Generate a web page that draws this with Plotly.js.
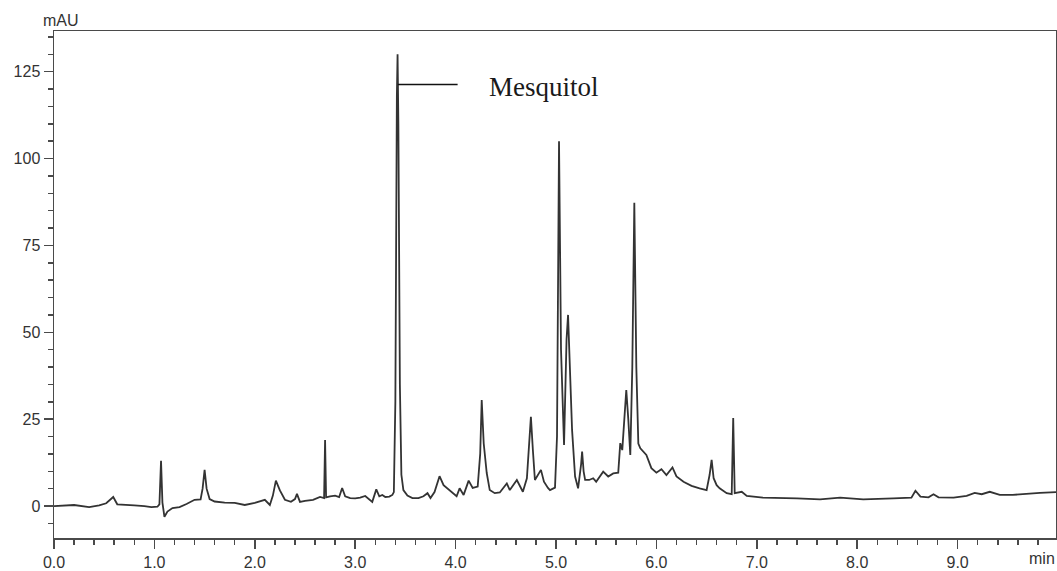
<!DOCTYPE html>
<html>
<head>
<meta charset="utf-8">
<script src="https://cdn.plot.ly/plotly-3.0.1.min.js"></script>
<style>
html,body{margin:0;padding:0;background:#fff;}
#chart{width:1057px;height:571px;}
</style>
</head>
<body>
<div id="chart"></div>
<script>
// Retention time (min)
var timeMin = [
  0.00, 0.10, 0.20, 0.35, 0.45, 0.52, 0.59, 0.63, 0.70, 0.80, 0.90, 0.97,
  1.03, 1.05, 1.066, 1.08, 1.10, 1.13, 1.18, 1.25, 1.32, 1.36, 1.40, 1.46,
  1.48, 1.50, 1.52, 1.55, 1.60, 1.70, 1.80, 1.90, 2.00, 2.10, 2.15, 2.18,
  2.21, 2.25, 2.30, 2.36, 2.40, 2.42, 2.45, 2.50, 2.58, 2.65, 2.69, 2.70,
  2.71, 2.75, 2.80, 2.84, 2.87, 2.90, 2.95, 3.00, 3.05, 3.10, 3.15, 3.17,
  3.21, 3.24, 3.27, 3.30, 3.34, 3.37, 3.385, 3.40, 3.415, 3.422, 3.43, 3.445,
  3.46, 3.48, 3.52, 3.57, 3.63, 3.68, 3.72, 3.75, 3.79, 3.84, 3.88, 3.94,
  4.01, 4.04, 4.08, 4.13, 4.17, 4.22, 4.245, 4.26, 4.28, 4.31, 4.34, 4.39,
  4.44, 4.51, 4.54, 4.61, 4.67, 4.71, 4.735, 4.75, 4.77, 4.79, 4.85, 4.88,
  4.92, 4.94, 4.99, 5.01, 5.03, 5.05, 5.08, 5.105, 5.12, 5.14, 5.16, 5.19,
  5.22, 5.25, 5.26, 5.275, 5.29, 5.33, 5.37, 5.40, 5.47, 5.52, 5.57, 5.62,
  5.64, 5.66, 5.70, 5.72, 5.74, 5.76, 5.78, 5.80, 5.82, 5.84, 5.88, 5.90,
  5.95, 6.00, 6.05, 6.10, 6.16, 6.20, 6.27, 6.35, 6.43, 6.50, 6.53, 6.55,
  6.57, 6.60, 6.63, 6.70, 6.75, 6.765, 6.78, 6.85, 6.90, 7.06, 7.40, 7.63,
  7.83, 8.06, 8.36, 8.54, 8.58, 8.63, 8.71, 8.76, 8.81, 8.96, 9.09, 9.17,
  9.24, 9.32, 9.42, 9.55, 9.82, 9.98
];
// Absorbance (mAU)
var absorbance = [
  0.0, 0.1, 0.3, -0.3, 0.2, 0.8, 2.6, 0.5, 0.3, 0.2, 0.0, -0.3,
  -0.2, 0.5, 13.0, 1.0, -3.1, -1.6, -0.6, -0.3, 0.6, 1.3, 1.8, 1.9,
  5.0, 10.4, 5.0, 2.0, 1.3, 1.0, 0.9, 0.3, 0.9, 1.8, 0.3, 3.0,
  7.3, 4.5, 1.8, 1.2, 2.0, 3.5, 1.2, 1.5, 1.8, 2.6, 2.3, 19.0,
  2.5, 2.8, 3.0, 2.6, 5.2, 2.8, 2.3, 2.2, 2.4, 2.9, 1.6, 1.2,
  4.8, 2.8, 3.2, 2.6, 2.7, 3.2, 4.0, 30.0, 118.0, 130.0, 110.0, 35.0,
  9.0, 4.6, 3.0, 2.3, 2.3, 2.8, 3.7, 2.3, 4.0, 8.6, 6.0, 4.6,
  2.8, 5.1, 3.2, 7.3, 5.2, 5.6, 15.0, 30.5, 18.0, 9.5, 4.6, 3.7,
  3.9, 6.5, 4.6, 7.5, 4.1, 8.0, 20.0, 25.7, 16.0, 7.5, 10.4, 7.0,
  5.2, 4.6, 5.3, 20.0, 105.0, 45.0, 17.6, 48.0, 55.0, 35.0, 21.9, 8.5,
  5.1, 12.0, 15.7, 10.0, 7.5, 7.5, 8.0, 7.0, 9.9, 8.5, 9.4, 9.6,
  18.1, 16.1, 33.4, 25.0, 14.7, 40.0, 87.3, 40.0, 18.0, 16.6, 15.2, 14.7,
  10.9, 9.6, 10.6, 8.9, 11.1, 8.5, 7.0, 5.8, 5.1, 4.6, 9.0, 13.3,
  8.0, 6.0, 5.1, 3.7, 3.4, 25.3, 3.7, 4.1, 2.9, 2.4, 2.2, 1.9,
  2.4, 1.9, 2.2, 2.4, 4.4, 2.7, 2.5, 3.4, 2.5, 2.4, 2.9, 3.8,
  3.4, 4.1, 3.2, 3.2, 3.8, 4.0
];
var xTickVals = [0, 1, 2, 3, 4, 5, 6, 7, 8, 9];
var xTickText = ["0.0", "1.0", "2.0", "3.0", "4.0", "5.0", "6.0", "7.0", "8.0", "9.0"];
var yTickVals = [0, 25, 50, 75, 100, 125];
var yTickText = ["0", "25", "50", "75", "100", "125"];
var peakLabel = "Mesquitol";
var peakLabelLine = {x0: 3.425, x1: 4.02, y: 121.3};
var peakLabelPos = {x: 4.31, y: 120.6};

var axisColor = "#4a4a4a";
var tickFont = {family: "Liberation Sans, Arial, sans-serif", size: 16, color: "#333"};

var trace = {
  x: timeMin, y: absorbance, type: "scatter", mode: "lines",
  line: {color: "#333333", width: 1.8}, hoverinfo: "skip"
};

var layout = {
  width: 1057, height: 571,
  margin: {l: 54, r: 1, t: 31, b: 33},
  paper_bgcolor: "#fff", plot_bgcolor: "#fff",
  showlegend: false,
  xaxis: {
    range: [0, 9.98], showgrid: false, zeroline: false,
    showline: true, linecolor: axisColor, linewidth: 1.5, mirror: true,
    ticks: "outside", ticklen: 9, tickwidth: 1.5, tickcolor: axisColor,
    tickvals: xTickVals, ticktext: xTickText, tickfont: tickFont,
    minor: {dtick: 0.2, tick0: 0, ticks: "outside", ticklen: 5, tickwidth: 1.5, tickcolor: axisColor, showgrid: false}
  },
  yaxis: {
    range: [-9.2, 136.7], showgrid: false, zeroline: false,
    showline: true, linecolor: axisColor, linewidth: 1.5, mirror: true,
    ticks: "outside", ticklen: 9, tickwidth: 1.5, tickcolor: axisColor,
    tickvals: yTickVals, ticktext: yTickText, tickfont: tickFont,
    minor: {dtick: 5, tick0: 0, ticks: "outside", ticklen: 5, tickwidth: 1.5, tickcolor: axisColor, showgrid: false}
  },
  shapes: [{
    type: "line", xref: "x", yref: "y",
    x0: peakLabelLine.x0, x1: peakLabelLine.x1, y0: peakLabelLine.y, y1: peakLabelLine.y,
    line: {color: "#111", width: 1.5}
  }],
  annotations: [
    {text: peakLabel, x: peakLabelPos.x, y: peakLabelPos.y, xref: "x", yref: "y",
     xanchor: "left", yanchor: "middle", showarrow: false,
     font: {family: "Liberation Serif, Times New Roman, serif", size: 27, color: "#1a1a1a"}},
    {text: "mAU", x: 61, y: 21, xref: "paper", yref: "paper", showarrow: false,
     font: tickFont},
    {text: "min", x: 1042, y: 558, xref: "paper", yref: "paper", showarrow: false,
     font: tickFont}
  ]
};
// convert pixel-positioned paper annotations to paper fractions
(function(){
  var pw = 1057 - 54 - 1, ph = 571 - 31 - 33;
  for (var i = 1; i < layout.annotations.length; i++) {
    var a = layout.annotations[i];
    a.x = (a.x - 54) / pw;
    a.y = 1 - (a.y - 31) / ph;
    a.xanchor = "center"; a.yanchor = "middle";
  }
})();

Plotly.newPlot("chart", [trace], layout, {displayModeBar: false, staticPlot: true});
</script>
</body>
</html>
